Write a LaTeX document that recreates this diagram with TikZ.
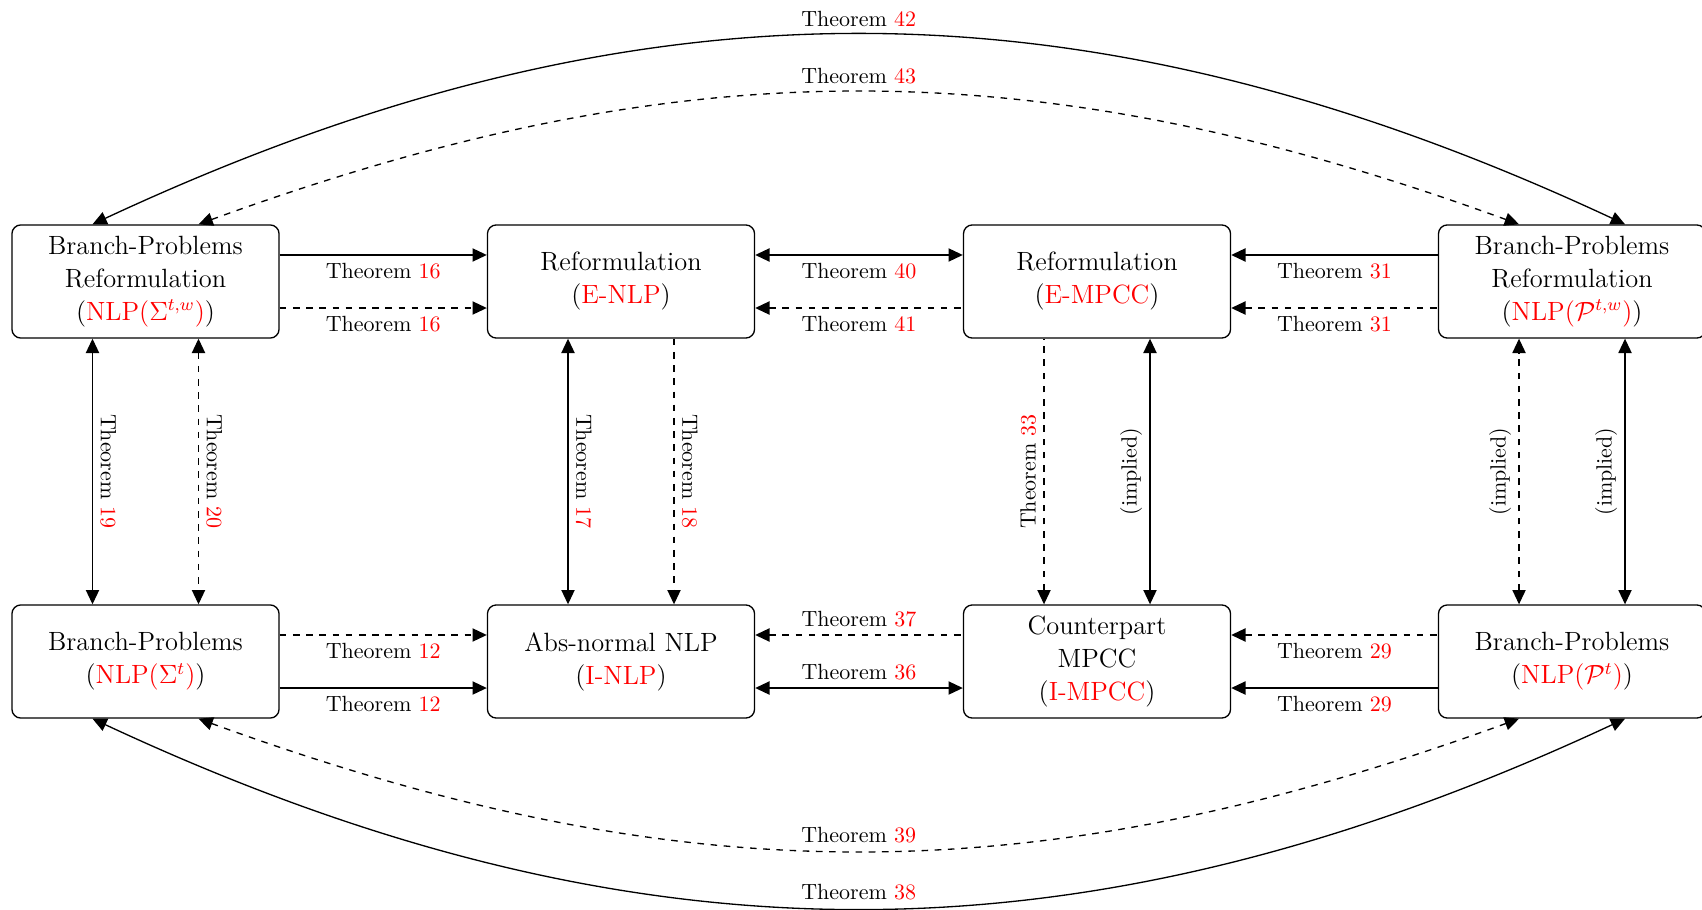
\documentclass[tikz,border=0pt]{standalone}
\usetikzlibrary{arrows.meta}
\newcommand\Thm[1]{Theorem \textcolor{red}{#1}}
\begin{document}
\begin{tikzpicture}[x=0.454545pt,y=0.454545pt,
  box/.style={draw, semithick, rounded corners=4pt, minimum width=121.4pt, minimum height=51.4pt, align=center, font=\fontsize{12}{15}\selectfont},
  conn/.style={semithick, >={Triangle[length=6.5pt,width=6pt]}},
  vr/.style={midway, rotate=-90, anchor=south, font=\normalsize},
  vl/.style={midway, rotate=90, anchor=south, font=\normalsize}]
\useasboundingbox (0,0) rectangle (1702,909);
% boxes
\node[box] (t1) at (145.5,627.5) {Branch-Problems\\Reformulation\\(\textcolor{red}{NLP($\Sigma^{t,w}$)})};
\node[box] (t2) at (621,627.5) {Reformulation\\(\textcolor{red}{E-NLP})};
\node[box] (t3) at (1097,627.5) {Reformulation\\(\textcolor{red}{E-MPCC})};
\node[box] (t4) at (1572,627.5) {Branch-Problems\\Reformulation\\(\textcolor{red}{NLP($\mathcal{P}^{t,w}$)})};
\node[box] (b1) at (145.5,247.5) {Branch-Problems\\(\textcolor{red}{NLP($\Sigma^{t}$)})};
\node[box] (b2) at (621,247.5) {Abs-normal NLP\\(\textcolor{red}{I-NLP})};
\node[box] (b3) at (1097,247.5) {Counterpart\\MPCC\\(\textcolor{red}{I-MPCC})};
\node[box] (b4) at (1572,247.5) {Branch-Problems\\(\textcolor{red}{NLP($\mathcal{P}^{t}$)})};
% top row horizontals
\draw[conn,->] ([yshift=12.05pt]t1.east) -- node[below]{\Thm{16}} ([yshift=12.05pt]t2.west);
\draw[conn,->,dashed] ([yshift=-12.05pt]t1.east) -- node[below]{\Thm{16}} ([yshift=-12.05pt]t2.west);
\draw[conn,<->] ([yshift=12.05pt]t2.east) -- node[below]{\Thm{40}} ([yshift=12.05pt]t3.west);
\draw[conn,<-,dashed] ([yshift=-12.05pt]t2.east) -- node[below]{\Thm{41}} ([yshift=-12.05pt]t3.west);
\draw[conn,<-] ([yshift=12.05pt]t3.east) -- node[below]{\Thm{31}} ([yshift=12.05pt]t4.west);
\draw[conn,<-,dashed] ([yshift=-12.05pt]t3.east) -- node[below]{\Thm{31}} ([yshift=-12.05pt]t4.west);
% bottom row horizontals
\draw[conn,->,dashed] ([yshift=12.05pt]b1.east) -- node[below]{\Thm{12}} ([yshift=12.05pt]b2.west);
\draw[conn,->] ([yshift=-12.05pt]b1.east) -- node[below]{\Thm{12}} ([yshift=-12.05pt]b2.west);
\draw[conn,<-,dashed] ([yshift=12.05pt]b2.east) -- node[above]{\Thm{37}} ([yshift=12.05pt]b3.west);
\draw[conn,<->] ([yshift=-12.05pt]b2.east) -- node[above]{\Thm{36}} ([yshift=-12.05pt]b3.west);
\draw[conn,<-,dashed] ([yshift=12.05pt]b3.east) -- node[below]{\Thm{29}} ([yshift=12.05pt]b4.west);
\draw[conn,<-] ([yshift=-12.05pt]b3.east) -- node[below]{\Thm{29}} ([yshift=-12.05pt]b4.west);
% verticals
\draw[conn,<->] ([xshift=-24.09pt]t1.south) -- node[vr]{\Thm{19}} ([xshift=-24.09pt]b1.north);
\draw[conn,<->,dashed] ([xshift=24.09pt]t1.south) -- node[vr]{\Thm{20}} ([xshift=24.09pt]b1.north);
\draw[conn,<->] ([xshift=-24.09pt]t2.south) -- node[vr]{\Thm{17}} ([xshift=-24.09pt]b2.north);
\draw[conn,->,dashed] ([xshift=24.09pt]t2.south) -- node[vr]{\Thm{18}} ([xshift=24.09pt]b2.north);
\draw[conn,<-,dashed] ([xshift=-24.09pt]b3.north) -- node[vl]{\Thm{33}} ([xshift=-24.09pt]t3.south);
\draw[conn,<->] ([xshift=24.09pt]b3.north) -- node[vl]{(implied)} ([xshift=24.09pt]t3.south);
\draw[conn,<->,dashed] ([xshift=-24.09pt]b4.north) -- node[vl]{(implied)} ([xshift=-24.09pt]t4.south);
\draw[conn,<->] ([xshift=24.09pt]b4.north) -- node[vl]{(implied)} ([xshift=24.09pt]t4.south);
% long curves
\draw[conn,<->] ([xshift=-24.09pt]t1.north) to[bend left=25] node[above]{\Thm{42}} ([xshift=24.09pt]t4.north);
\draw[conn,<->,dashed] ([xshift=24.09pt]t1.north) to[bend left=20] node[above]{\Thm{43}} ([xshift=-24.09pt]t4.north);
\draw[conn,<->,dashed] ([xshift=24.09pt]b1.south) to[bend right=20] node[above]{\Thm{39}} ([xshift=-24.09pt]b4.south);
\draw[conn,<->] ([xshift=-24.09pt]b1.south) to[bend right=25] node[above]{\Thm{38}} ([xshift=24.09pt]b4.south);
\end{tikzpicture}
\end{document}
